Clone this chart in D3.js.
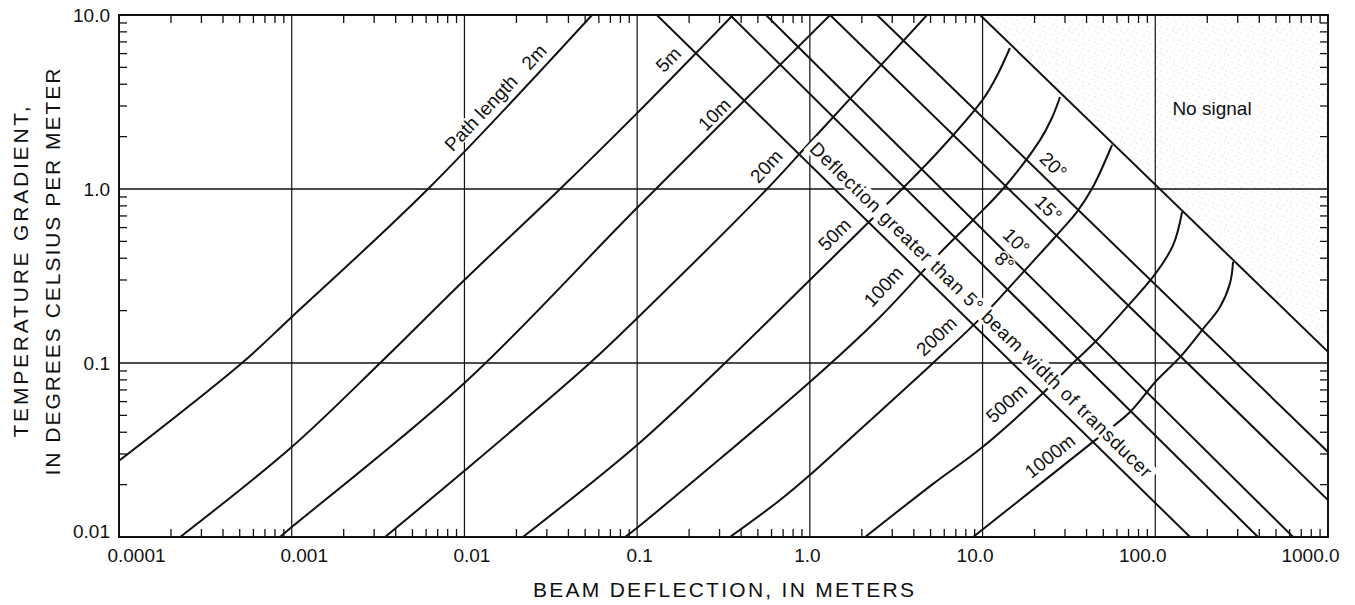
<!DOCTYPE html>
<html>
<head>
<meta charset="utf-8">
<title>Beam deflection</title>
<script src="https://cdn.jsdelivr.net/npm/d3@7"></script>
<style>
  body { margin: 0; background: #fff; }
  .chart svg { display: block; font-family: "Liberation Sans", Arial, Helvetica, sans-serif; }
</style>
</head>
<body>
<div class="chart"></div>
<script>
/* globals d3 */
// path length curves, [beam deflection (m), temperature gradient (deg C per m)]
const path2m = [[0.0001, 0.0274], [0.000515, 0.1], [0.001, 0.184], [0.00615, 1], [0.0548, 10]];
const path5m = [[0.000226, 0.01], [0.001, 0.0329], [0.00325, 0.1], [0.01, 0.3], [0.0358, 1], [0.1, 2.73], [0.359, 10]];
const path10m = [[0.000855, 0.01], [0.001, 0.0114], [0.01, 0.0767], [0.1, 0.78], [1.31, 10]];
const path20m = [[0.00347, 0.01], [0.01, 0.024], [0.0533, 0.1], [0.1, 0.181], [0.565, 1], [1, 1.85], [4.77, 10]];
const path50m = [[0.0218, 0.01], [0.1, 0.0338], [0.323, 0.1], [1, 0.3], [3.42, 1], [5.67, 1.68], [10, 3.25], [12.1, 4.46], [14.4, 6.46]];
const path100m = [[0.0851, 0.01], [0.1, 0.0113], [1, 0.0778], [2.55, 0.184], [5.67, 0.429], [8.81, 0.664], [13.1, 1], [21.5, 1.91], [25.2, 2.56], [28.1, 3.38]];
const path200m = [[0.345, 0.01], [0.672, 0.0163], [1, 0.0227], [2.03, 0.0429], [5.17, 0.1], [10, 0.186], [17.2, 0.333], [26.3, 0.53], [35.2, 0.738], [43.6, 1.03], [56.2, 1.79]];
const path500m = [[2.09, 0.01], [5.17, 0.0202], [10, 0.0329], [22.4, 0.0672], [33.4, 0.1], [44.8, 0.132], [68.6, 0.21], [100, 0.325], [127, 0.477], [143, 0.738]];
const path1000m = [[8.81, 0.01], [43.6, 0.0352], [71.4, 0.0523], [100, 0.0778], [139, 0.108], [187, 0.155], [237, 0.21], [271, 0.288], [282, 0.381]];
const pathNames = ["Path length   2m", "5m", "10m", "20m", "50m", "100m", "200m", "500m", "1000m"];

// straight limit lines, [deflection, gradient] at both ends
const beam5 = [[0.130, 10], [159, 0.01]];
const beam8 = [[0.345, 10], [393, 0.01]];
const beam10 = [[0.557, 10], [628, 0.01]];
const beam15 = [[1.31, 10], [1000, 0.0163]];
const beam20 = [[2.45, 10], [1000, 0.0308]];
const noSignalEdge = [[9.67, 10], [1000, 0.116]];
const beamNames = ["Deflection greater than 5\u00b0 beam width of transducer", "8\u00b0", "10\u00b0", "15\u00b0", "20\u00b0"];

const xTicks = [0.0001, 0.001, 0.01, 0.1, 1, 10, 100, 1000];
const xTickLabels = ["0.0001", "0.001", "0.01", "0.1", "1.0", "10.0", "100.0", "1000.0"];
const yTicks = [0.01, 0.1, 1, 10];
const yTickLabels = ["0.01", "0.1", "1.0", "10.0"];

const margin = { top: 15, right: 27, bottom: 68, left: 119 };
const width = 1355 - margin.left - margin.right,
  height = 605 - margin.top - margin.bottom;

const x = d3.scaleLog().domain([1e-4, 1e3]).range([0, width]);
const y = d3.scaleLog().domain([0.01, 10]).range([height, 0]);

const ink = "#111";

const svg = d3
  .select(".chart")
  .append("svg")
  .attr("width", width + margin.left + margin.right)
  .attr("height", height + margin.top + margin.bottom)
  .append("g")
  .attr("transform", "translate(" + margin.left + "," + margin.top + ")");

const defs = svg.append("defs");
defs.append("clipPath").attr("id", "plot").append("rect").attr("width", width).attr("height", height);

// light stipple for the no signal area
const stip = defs
  .append("pattern")
  .attr("id", "stipple")
  .attr("patternUnits", "userSpaceOnUse")
  .attr("width", 13)
  .attr("height", 11);
[[2, 1], [8, 3], [4, 7], [11, 9], [1, 5]].forEach(([cx, cy]) =>
  stip.append("circle").attr("cx", cx).attr("cy", cy).attr("r", 0.55).attr("fill", "#c4c4c4")
);

const line = d3.line().x((d) => x(d[0])).y((d) => y(d[1]));
const smooth = d3.line().x((d) => x(d[0])).y((d) => y(d[1])).curve(d3.curveCatmullRom.alpha(0.5));

const plot = svg.append("g").attr("clip-path", "url(#plot)");

plot
  .append("path")
  .attr("d", line([noSignalEdge[0], [x.domain()[1], y.domain()[1]], noSignalEdge[1]]) + "Z")
  .attr("fill", "url(#stipple)");

// decade grid
plot
  .selectAll(".gx")
  .data(xTicks.slice(1, -1))
  .join("line")
  .attr("x1", (d) => x(d))
  .attr("x2", (d) => x(d))
  .attr("y1", 0)
  .attr("y2", height)
  .attr("stroke", ink)
  .attr("stroke-width", 1.2);
plot
  .selectAll(".gy")
  .data(yTicks.slice(1, -1))
  .join("line")
  .attr("y1", (d) => y(d))
  .attr("y2", (d) => y(d))
  .attr("x1", 0)
  .attr("x2", width)
  .attr("stroke", ink)
  .attr("stroke-width", 1.3);

// minor ticks inside all four sides
const isDecade = (v) => Math.abs(Math.log10(v) - Math.round(Math.log10(v))) < 1e-9;
const xMinor = x.ticks().filter((v) => !isDecade(v));
const yMinor = y.ticks().filter((v) => !isDecade(v));
const tickLen = 8;
const ticks = svg.append("g").attr("stroke", ink).attr("stroke-width", 1.3);
[[height, height - tickLen], [0, tickLen]].forEach(([a, b]) => {
  ticks.append("g").selectAll("line").data(xMinor).join("line")
    .attr("x1", (d) => x(d)).attr("x2", (d) => x(d)).attr("y1", a).attr("y2", b);
});
[[0, tickLen], [width, width - tickLen]].forEach(([a, b]) => {
  ticks.append("g").selectAll("line").data(yMinor).join("line")
    .attr("y1", (d) => y(d)).attr("y2", (d) => y(d)).attr("x1", a).attr("x2", b);
});

// limit lines and path length curves
const beams = [beam5, beam8, beam10, beam15, beam20, noSignalEdge];
plot
  .selectAll(".beam")
  .data(beams)
  .join("path")
  .attr("d", line)
  .attr("fill", "none")
  .attr("stroke", ink)
  .attr("stroke-width", 2);

const curves = [path2m, path5m, path10m, path20m, path50m, path100m, path200m, path500m, path1000m];
plot
  .selectAll(".curve")
  .data(curves)
  .join("path")
  .attr("d", smooth)
  .attr("fill", "none")
  .attr("stroke", ink)
  .attr("stroke-width", 2)
  .attr("stroke-linejoin", "round");

// labels
const labels = svg.append("g").attr("font-size", 19).attr("fill", ink);

const localAngle = (pts, v) => {
  let i = pts.findIndex((p) => p[0] > v);
  if (i < 1) i = 1;
  const a = pts[i - 1], b = pts[i];
  return (Math.atan2(y(b[1]) - y(a[1]), x(b[0]) - x(a[0])) * 180) / Math.PI;
};
const lineAngle = (l) =>
  (Math.atan2(y(l[1][1]) - y(l[0][1]), x(l[1][0]) - x(l[0][0])) * 180) / Math.PI;

// label anchors (data units)
const pathLabelAt = [[0.0159, 3.2], [0.159, 5.3], [0.294, 2.56], [0.588, 1.29], [1.455, 0.523], [2.8, 0.263], [5.67, 0.136], [14.4, 0.0559], [25.6, 0.0277]];
const beamLabelAt = [[9.8, 0.202], [13.1, 0.376], [15.4, 0.49], [23.6, 0.757], [25.2, 1.34]];

pathNames.forEach((name, i) => {
  const [lx, ly] = pathLabelAt[i];
  labels
    .append("text")
    .attr("transform", "translate(" + x(lx) + "," + y(ly) + ") rotate(" + localAngle(curves[i], lx) + ")")
    .attr("y", -5)
    .attr("text-anchor", "middle")
    .attr("dominant-baseline", "central")
    .style("white-space", "pre")
    .attr("stroke", "#fff")
    .attr("stroke-width", 3)
    .attr("paint-order", "stroke")
    .text(name);
});

beamNames.forEach((name, i) => {
  const [lx, ly] = beamLabelAt[i];
  const g = labels
    .append("g")
    .attr("transform", "translate(" + x(lx) + "," + y(ly) + ") rotate(" + lineAngle(beams[i]) + ")");
  const t = g
    .append("text")
    .attr("y", i === 0 ? 0 : -2)
    .attr("text-anchor", "middle")
    .attr("dominant-baseline", "central")
    .attr("stroke", "#fff")
    .attr("stroke-width", 3)
    .attr("paint-order", "stroke")
    .text(name);
  if (i === 0) {
    t.attr("textLength", 470).attr("lengthAdjust", "spacing");
    const bb = t.node().getBBox();
    g.insert("rect", "text")
      .attr("x", bb.x - 4)
      .attr("y", bb.y + 1)
      .attr("width", bb.width + 8)
      .attr("height", bb.height - 2)
      .attr("fill", "#fff");
  }
});

labels
  .append("text")
  .attr("x", x(213))
  .attr("y", y(2.92))
  .attr("text-anchor", "middle")
  .attr("dominant-baseline", "central")
  .text("No signal");

// frame
svg
  .append("rect")
  .attr("width", width)
  .attr("height", height)
  .attr("fill", "none")
  .attr("stroke", ink)
  .attr("stroke-width", 2);

// tick labels
const axisText = svg.append("g").attr("font-size", 19).attr("fill", ink);
axisText
  .selectAll(".xl")
  .data(xTicks)
  .join("text")
  .attr("x", (d, i) => x(d) + (3.5 - i) * 5)
  .attr("y", height + 18)
  .attr("text-anchor", "middle")
  .attr("dominant-baseline", "central")
  .text((d, i) => xTickLabels[i]);
axisText
  .selectAll(".yl")
  .data(yTicks)
  .join("text")
  .attr("x", -9)
  .attr("y", (d, i) => y(d) - (i === 0 ? 6 : 0))
  .attr("text-anchor", "end")
  .attr("dominant-baseline", "central")
  .text((d, i) => yTickLabels[i]);

// axis titles
const titles = svg.append("g").attr("font-size", 21).attr("fill", ink);
titles
  .append("text")
  .attr("x", width / 2)
  .attr("y", height + 52)
  .attr("text-anchor", "middle")
  .attr("dominant-baseline", "central")
  .attr("textLength", 381)
  .attr("lengthAdjust", "spacing")
  .text("BEAM DEFLECTION, IN METERS");
[["TEMPERATURE GRADIENT,", -99, 331], ["IN DEGREES CELSIUS PER METER", -67, 407]].forEach(([txt, tx, len]) => {
  titles
    .append("text")
    .attr("transform", "translate(" + tx + "," + 257 + ") rotate(-90)")
    .attr("text-anchor", "middle")
    .attr("dominant-baseline", "central")
    .attr("textLength", len)
    .attr("lengthAdjust", "spacing")
    .text(txt);
});
</script>
</body>
</html>
